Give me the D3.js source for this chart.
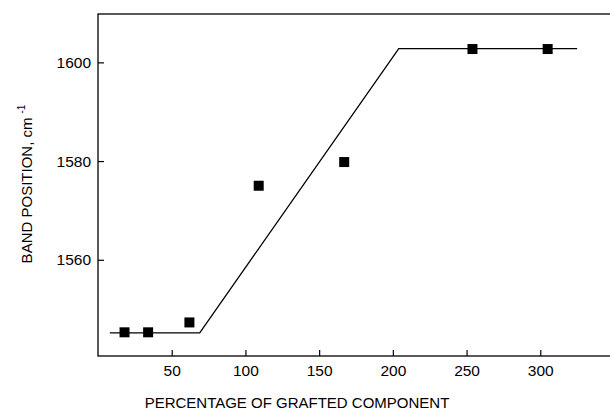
<!DOCTYPE html>
<html>
<head>
<meta charset="utf-8">
<script src="https://cdn.jsdelivr.net/npm/d3@7"></script>
<style>
  body { margin: 0; background: #fff; }
  svg { display: block; font-family: Arial, "Liberation Sans", sans-serif; }
</style>
</head>
<body>
<div id="chart"></div>
<script>
// measured points
const grafted = [18, 34, 62, 109, 167, 254, 305];
const bandPos = [1545.3, 1545.3, 1547.3, 1575.0, 1579.8, 1602.7, 1602.7];

// fitted broken line
const fitX = [8, 69, 204, 325];
const fitY = [1545.2, 1545.2, 1602.8, 1602.8];

const xTicks = [50, 100, 150, 200, 250, 300];
const yTicks = [1560, 1580, 1600];

const W = 610, H = 413;
const margin = { top: 14, right: -4, bottom: 57, left: 98 };
const width = W - margin.left - margin.right;
const height = H - margin.top - margin.bottom;

const svg = d3.select("#chart")
  .append("svg")
  .attr("width", W)
  .attr("height", H);

const g = svg.append("g")
  .attr("transform", `translate(${margin.left},${margin.top})`);

const x = d3.scaleLinear().domain([0, 350]).range([0, width]);
const y = d3.scaleLinear().domain([1540.5, 1609.8]).range([height, 0]);

// frame
g.append("rect")
  .attr("width", width)
  .attr("height", height)
  .attr("fill", "none")
  .attr("stroke", "#000")
  .attr("stroke-width", 1.3);

// axes with inward ticks
const xAxis = g.append("g")
  .attr("transform", `translate(0,${height})`)
  .call(d3.axisBottom(x).tickValues(xTicks).tickFormat(d3.format("d"))
    .tickSizeInner(-6).tickSizeOuter(0).tickPadding(9));
const yAxis = g.append("g")
  .call(d3.axisLeft(y).tickValues(yTicks).tickFormat(d3.format("d"))
    .tickSizeInner(-6).tickSizeOuter(0).tickPadding(7));

[xAxis, yAxis].forEach(a => {
  a.select(".domain").remove();
  a.selectAll("line").attr("stroke", "#000").attr("stroke-width", 1.2);
  a.selectAll("text")
    .attr("fill", "#000")
    .style("font-size", "15.5px")
    .style("font-family", "Arial, 'Liberation Sans', sans-serif");
});

// fit line
const fit = fitX.map((d, i) => [d, fitY[i]]);
g.append("path")
  .datum(fit)
  .attr("fill", "none")
  .attr("stroke", "#000")
  .attr("stroke-width", 1.3)
  .attr("d", d3.line().x(d => x(d[0])).y(d => y(d[1])));

// squares
const s = 10;
g.selectAll(".pt")
  .data(grafted.map((d, i) => [d, bandPos[i]]))
  .enter()
  .append("rect")
  .attr("x", d => x(d[0]) - s / 2)
  .attr("y", d => y(d[1]) - s / 2)
  .attr("width", s)
  .attr("height", s)
  .attr("fill", "#000");

// axis titles
svg.append("text")
  .attr("x", 297)
  .attr("y", 408)
  .attr("text-anchor", "middle")
  .style("font-size", "15px")
  .text("PERCENTAGE OF GRAFTED COMPONENT");

const yl = svg.append("text")
  .attr("transform", "translate(32,184) rotate(-90)")
  .attr("text-anchor", "middle")
  .style("font-size", "15px");
yl.append("tspan").text("BAND POSITION, cm");
yl.append("tspan").attr("dy", -7).attr("dx", 4).style("font-size", "10px").text("-1");
</script>
</body>
</html>
